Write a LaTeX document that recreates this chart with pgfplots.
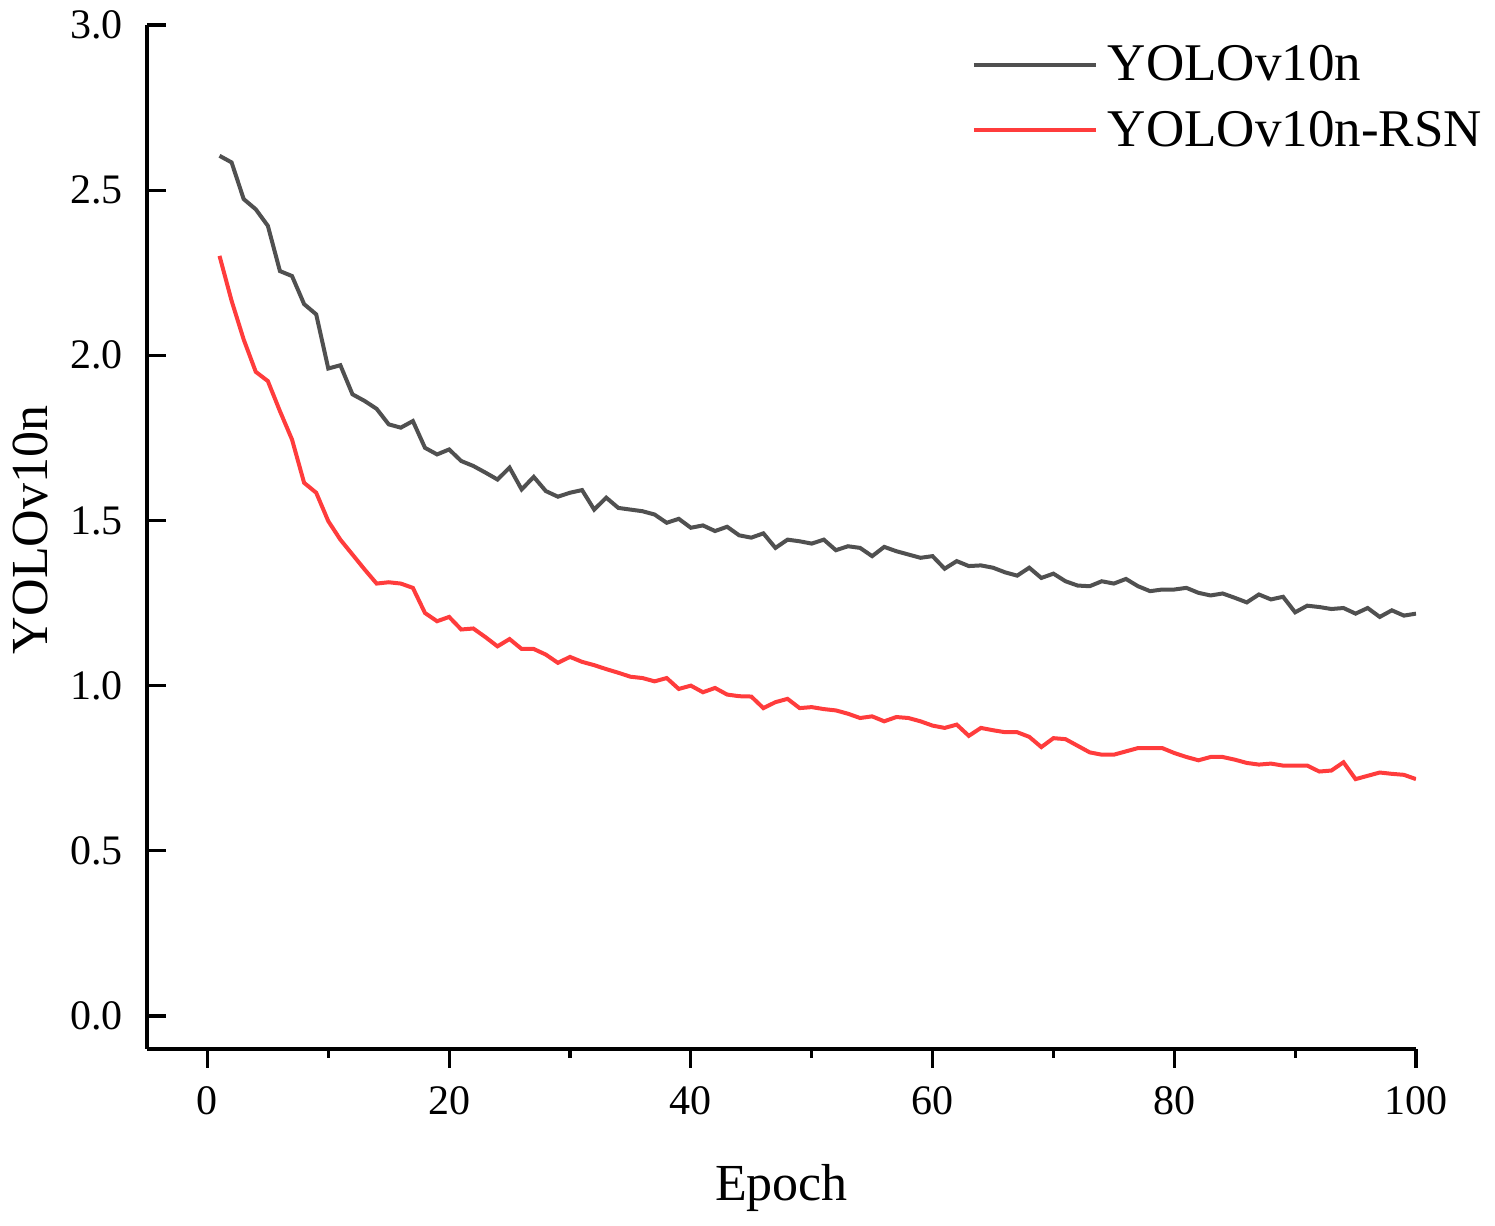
\documentclass[border=0pt]{standalone}
\usepackage{pgfplots}
\pgfplotsset{compat=1.18}
\usepackage{pgfplotstable}
\usepackage{fontspec}
\setmainfont{Liberation Serif}
\definecolor{cgray}{RGB}{80,80,80}
\definecolor{cred}{RGB}{255,60,60}
\pgfplotstableread{
x y
1 2.604
2 2.584
3 2.473
4 2.442
5 2.392
6 2.255
7 2.240
8 2.155
9 2.124
10 1.960
11 1.970
12 1.882
13 1.862
14 1.838
15 1.791
16 1.781
17 1.801
18 1.720
19 1.700
20 1.715
21 1.680
22 1.665
23 1.645
24 1.624
25 1.660
26 1.594
27 1.632
28 1.589
29 1.572
30 1.584
31 1.592
32 1.533
33 1.569
34 1.538
35 1.533
36 1.528
37 1.518
38 1.493
39 1.505
40 1.478
41 1.485
42 1.468
43 1.481
44 1.455
45 1.448
46 1.461
47 1.417
48 1.442
49 1.437
50 1.430
51 1.442
52 1.410
53 1.422
54 1.417
55 1.392
56 1.420
57 1.407
58 1.397
59 1.387
60 1.392
61 1.354
62 1.377
63 1.362
64 1.364
65 1.357
66 1.343
67 1.333
68 1.357
69 1.326
70 1.339
71 1.316
72 1.303
73 1.301
74 1.316
75 1.309
76 1.323
77 1.301
78 1.286
79 1.291
80 1.291
81 1.296
82 1.281
83 1.273
84 1.279
85 1.266
86 1.252
87 1.276
88 1.261
89 1.269
90 1.222
91 1.242
92 1.238
93 1.232
94 1.235
95 1.218
96 1.235
97 1.208
98 1.228
99 1.212
100 1.218
}\base
\pgfplotstableread{
x y
1 2.301
2 2.165
3 2.048
4 1.950
5 1.922
6 1.831
7 1.745
8 1.614
9 1.584
10 1.498
11 1.442
12 1.397
13 1.352
14 1.309
15 1.313
16 1.309
17 1.296
18 1.220
19 1.195
20 1.208
21 1.170
22 1.173
23 1.147
24 1.119
25 1.141
26 1.111
27 1.111
28 1.094
29 1.069
30 1.087
31 1.072
32 1.062
33 1.050
34 1.039
35 1.027
36 1.023
37 1.013
38 1.023
39 0.990
40 1.000
41 0.980
42 0.993
43 0.973
44 0.968
45 0.967
46 0.932
47 0.950
48 0.960
49 0.932
50 0.935
51 0.929
52 0.925
53 0.915
54 0.902
55 0.907
56 0.892
57 0.905
58 0.902
59 0.892
60 0.879
61 0.872
62 0.882
63 0.848
64 0.872
65 0.865
66 0.859
67 0.859
68 0.845
69 0.814
70 0.841
71 0.838
72 0.818
73 0.798
74 0.791
75 0.791
76 0.801
77 0.811
78 0.811
79 0.811
80 0.796
81 0.784
82 0.774
83 0.784
84 0.784
85 0.776
86 0.766
87 0.761
88 0.764
89 0.758
90 0.758
91 0.758
92 0.740
93 0.743
94 0.768
95 0.717
96 0.727
97 0.737
98 0.733
99 0.730
100 0.717
}\rsn
\begin{document}
\begin{tikzpicture}
\useasboundingbox (-73.5pt,-88.5pt) rectangle (674pt,524.5pt);
\begin{axis}[
  at={(0,0)}, anchor=south west,
  scale only axis,
  width=634.5pt, height=512pt,
  xmin=-5, xmax=100, ymin=-0.1, ymax=3.0,
  axis x line=bottom, axis y line=left,
  axis line style={-, line width=1.8pt, black},
  xtick={0,20,...,100},
  minor x tick num=1,
  ytick={0,0.5,1.0,1.5,2.0,2.5,3.0},
  tick align=inside,
  major tick length=9.5pt, minor tick length=4.5pt,
  tick style={line width=1.6pt, black},
  every major x tick/.append style={yshift=-9.5pt},
  every minor x tick/.append style={yshift=-4.5pt},
  /pgf/number format/assume math mode=true,
  yticklabel style={/pgf/number format/fixed, /pgf/number format/fixed zerofill, /pgf/number format/precision=1},
  ticklabel style={font=\fontsize{21}{25}\selectfont},
  xticklabel style={yshift=-15.5pt},
  yticklabel style={xshift=-8.5pt},
  xlabel={Epoch}, ylabel={YOLOv10n},
  label style={font=\fontsize{26}{31}\selectfont},
  xlabel style={at={(axis description cs:0.5,-0.136)}, anchor=center},
  ylabel style={at={(axis description cs:-0.0915,0.507)}, anchor=center},
  legend style={draw=none, fill=none, at={(0.645,0.988)}, anchor=north west,
    font=\fontsize{26.5}{31}\selectfont, row sep=9.5pt},
  legend cell align=left,
  legend image code/.code={\draw[#1] (0pt,0pt) -- (61pt,0pt); \path (64pt,0pt);},
]
\addplot[cgray, line width=2pt] table[x=x,y=y] {\base};
\addlegendentry{YOLOv10n}
\addplot[cred, line width=2pt] table[x=x,y=y] {\rsn};
\addlegendentry{YOLOv10n-RSN}
\end{axis}
\end{tikzpicture}
\end{document}
